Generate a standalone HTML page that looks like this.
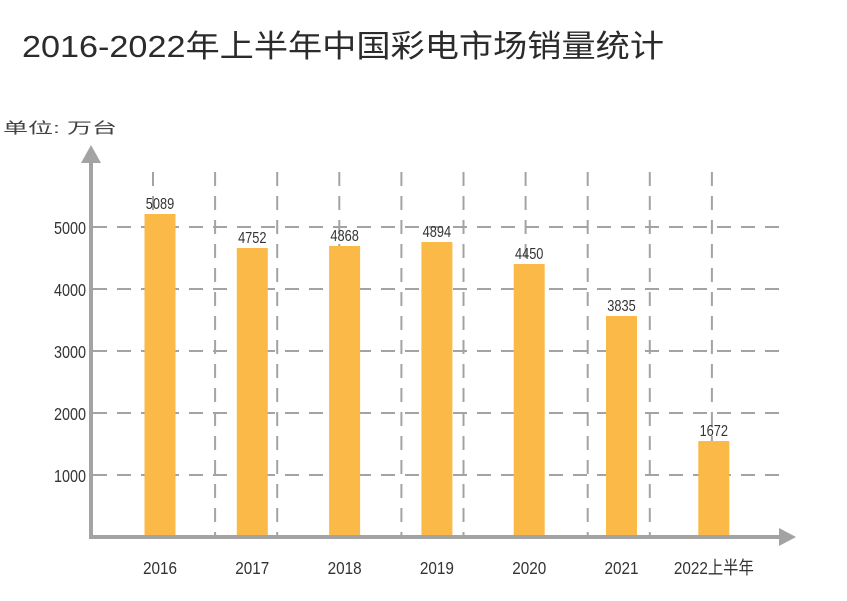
<!DOCTYPE html>
<html><head><meta charset="utf-8"><style>
html,body{margin:0;padding:0;background:#fff;}
svg text{font-family:"Liberation Sans","Noto Sans CJK SC",sans-serif;fill:#333;}
</style></head><body>
<svg id="chart" width="847" height="596" viewBox="0 0 847 596" xmlns="http://www.w3.org/2000/svg">
<text x="22" y="57" font-size="31" textLength="642" lengthAdjust="spacingAndGlyphs" style="fill:#2b2b2b">2016-2022年上半年中国彩电市场销量统计</text>
<text x="3" y="133" font-size="15" textLength="114" lengthAdjust="spacingAndGlyphs" style="fill:#444">单位:  万台</text>
<g id="grid"></g>
<g id="bars"></g>
<g id="axes"></g>
</svg>
<script>
const categories=["2016","2017","2018","2019","2020","2021","2022上半年"];
const values=[5210,4661,4694,4758,4403,3565,1548];
const valueLabels=["5089","4752","4868","4894","4450","3835","1672"];
const yTicks=[1000,2000,3000,4000,5000];

const NS="http://www.w3.org/2000/svg";
const y0=537, pxPer=0.062;
function yScale(v){return y0-v*pxPer;}
function xScale(i){return 160+i*92.3;}
function mk(tag,attrs,parent){const e=document.createElementNS(NS,tag);for(const k in attrs)e.setAttribute(k,attrs[k]);parent.appendChild(e);return e;}
const grid=document.getElementById('grid'),bars=document.getElementById('bars'),axes=document.getElementById('axes');
// horizontal gridlines & tick labels
yTicks.forEach(t=>{
  const y=yScale(t);
  const l=mk('line',{x1:93,x2:785,y1:y,y2:y,stroke:'#a3a3a3','stroke-width':2,'stroke-dasharray':'14,10'},grid);
  
  
  const tx=mk('text',{x:86,y:y+7,'font-size':18,'text-anchor':'end',transform:`translate(${86*0.2},0) scale(0.8,1)`},grid);
  tx.setAttribute('x',86/0.8*1-86*0.2/0.8);
  tx.textContent=t;
  
  
});
// vertical dashed lines
for(let i=0;i<10;i++){
  const x=153+i*62.1;
  const l=mk('line',{x1:x,x2:x,y1:172,y2:535,stroke:'#a3a3a3','stroke-width':2,'stroke-dasharray':'14,10'},grid);
  
  
}
// bars
values.forEach((v,i)=>{
  const cx=xScale(i), top=yScale(v);
  const r=mk('rect',{x:cx-15.5,y:top,width:31,height:y0-top,fill:'#FBBA47'},bars);
  
  
  const t=mk('text',{x:cx/0.8,y:top-5,'font-size':16,'text-anchor':'middle',transform:'scale(0.8,1)'},bars);
  t.textContent=valueLabels[i];
  
  
  const c=mk('text',{x:cx/0.85,y:574,'font-size':18,'text-anchor':'middle',transform:'scale(0.85,1)'},bars);
  c.textContent=categories[i];
  
  
});
// axes
const ya=mk('line',{x1:91,x2:91,y1:158,y2:539,stroke:'#a3a3a3','stroke-width':4},axes);


const yh=mk('polygon',{points:'91,145 81,163 101,163',fill:'#a3a3a3'},axes);


const xa=mk('line',{x1:89,x2:783,y1:537,y2:537,stroke:'#a3a3a3','stroke-width':4},axes);


const xh=mk('polygon',{points:'796,537 779,528 779,546',fill:'#a3a3a3'},axes);


</script>
</body></html>
